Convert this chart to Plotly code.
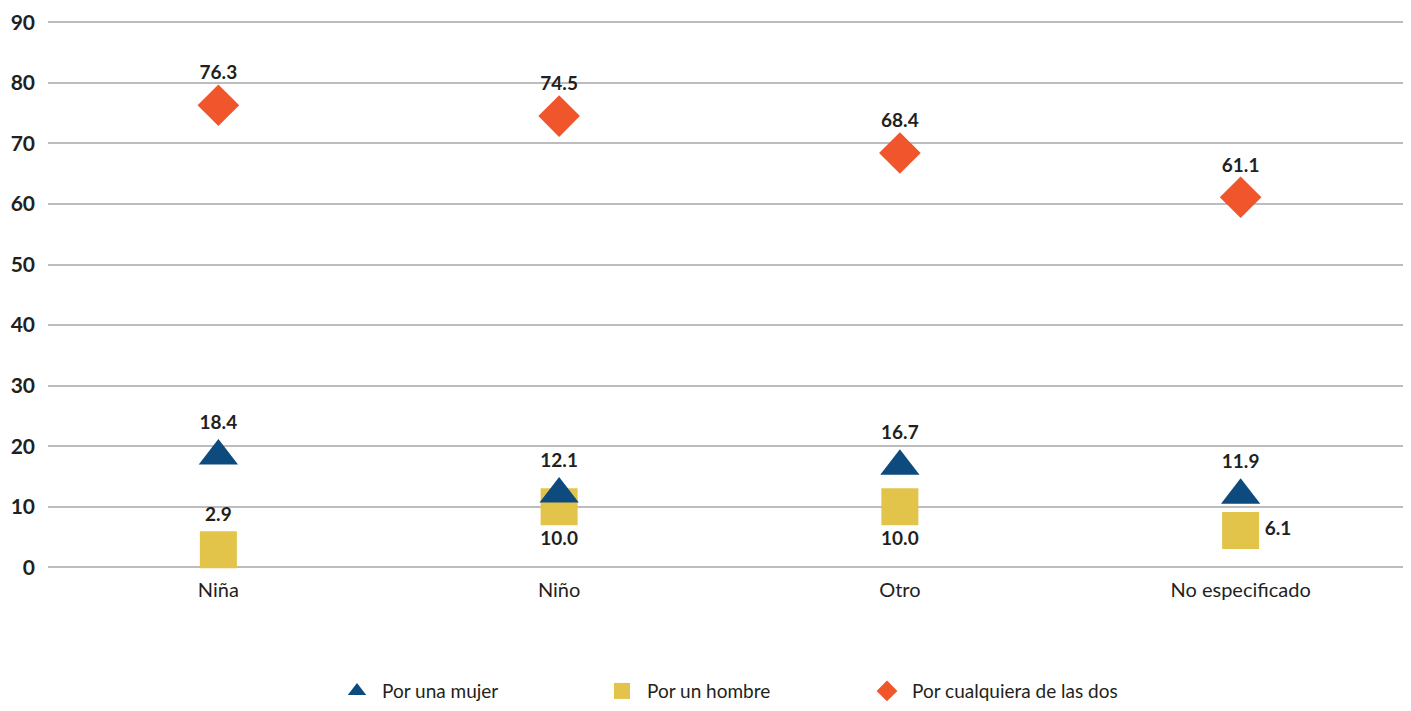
import plotly.graph_objects as go

# categorías y series (porcentajes)
categorias = ["Niña", "Niño", "Otro", "No especificado"]
por_mujer = [18.4, 12.1, 16.7, 11.9]
por_hombre = [2.9, 10.0, 10.0, 6.1]
por_cualquiera = [76.3, 74.5, 68.4, 61.1]

# posición de la etiqueta de cada punto
pos_mujer = ["top center"] * 4
pos_hombre = ["top center", "bottom center", "bottom center", "middle right"]
pos_cualquiera = ["top center"] * 4

AZUL = "#0d4a7e"
AMARILLO = "#e3c44a"
NARANJA = "#f0552b"
TXT = "#231f20"
FONT = "Lato, 'Open Sans', sans-serif"

fig = go.Figure()


def serie(nombre, valores, posiciones, simbolo, color, tam, rango):
    fig.add_trace(go.Scatter(
        x=categorias, y=valores, name=nombre,
        mode="markers+text",
        marker=dict(symbol=simbolo, color=color, size=tam, line=dict(width=0)),
        text=[f"{v:.1f}" for v in valores],
        textposition=posiciones,
        textfont=dict(family=FONT, size=19, color=TXT, weight="bold"),
        cliponaxis=False,
        legendrank=rango,
    ))


# el cuadrado va debajo del triángulo (orden de dibujo), la leyenda mantiene el orden original
serie("Por un hombre", por_hombre, pos_hombre, "square", AMARILLO, 37, 2)
serie("Por una mujer", por_mujer, pos_mujer, "triangle-up", AZUL, 34, 1)
serie("Por cualquiera de las dos", por_cualquiera, pos_cualquiera, "diamond", NARANJA, 32, 3)

# la página tiene 8 px de margen en el body: se descuentan aquí
fig.update_layout(
    width=1403, height=703,
    margin=dict(l=40, r=0, t=13, b=143),
    plot_bgcolor="white", paper_bgcolor="white",
    font=dict(family=FONT, color=TXT),
    showlegend=True,
    legend=dict(
        orientation="h", x=0.5, xanchor="center", y=-0.225, yanchor="middle",
        font=dict(family=FONT, size=19, color=TXT),
        entrywidth=210, entrywidthmode="pixels", itemwidth=40,
    ),
)
fig.update_xaxes(
    type="category", range=[-0.5, 3.5],
    showgrid=False, showline=False, zeroline=False,
    tickfont=dict(family=FONT, size=20, color=TXT),
    ticks="", ticklabelstandoff=8, automargin=False,
)
fig.update_yaxes(
    range=[-0.1, 90.2], dtick=10, tick0=0,
    showgrid=True, gridcolor="#bdbdbd", gridwidth=2,
    zeroline=True, zerolinecolor="#bdbdbd", zerolinewidth=2,
    showline=False, ticks="",
    tickfont=dict(family=FONT, size=21, color=TXT, weight="bold"),
    ticklabelstandoff=12, automargin=False,
)

fig.write_html("out.html")
